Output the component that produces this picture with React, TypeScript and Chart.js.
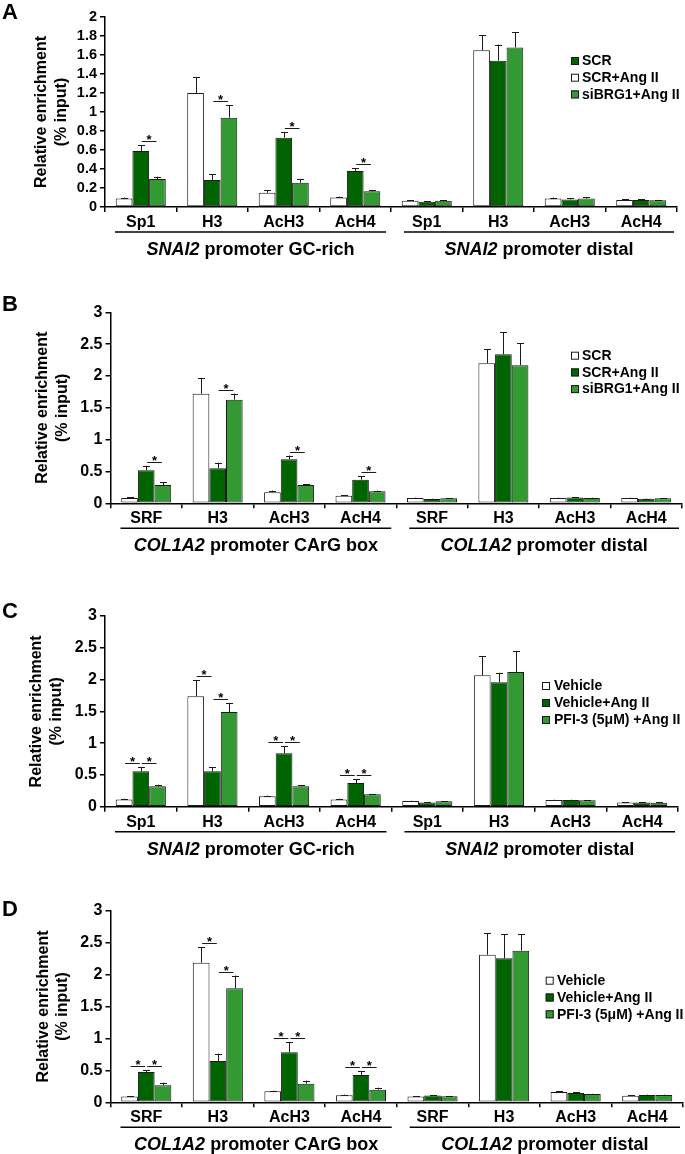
import React, { useEffect, useRef } from "react";
import { Chart, registerables } from "chart.js";

Chart.register(...registerables);

const FONT = "'Liberation Sans', Arial, Helvetica, sans-serif";
const WHITE = "#ffffff";
const DARK = "#006400";
const LIGHT = "#339933";
const EDGE = "#1a1a1a";

// ---------- shared categories / ticks ----------
const CATS_SNAI2 = ["Sp1", "H3", "AcH3", "AcH4", "Sp1", "H3", "AcH3", "AcH4"];
const CATS_COL1A2 = ["SRF", "H3", "AcH3", "AcH4", "SRF", "H3", "AcH3", "AcH4"];
const Y_TICKS_A = [0, 0.2, 0.4, 0.6, 0.8, 1, 1.2, 1.4, 1.6, 1.8, 2];
const Y_TICKS_3 = [0, 0.5, 1, 1.5, 2, 2.5, 3];
const Y_TITLE = ["Relative enrichment", "(% input)"];

// ---------- Panel A ----------
const A_WHITE = [0.09, 1.2, 0.15, 0.1, 0.065, 1.65, 0.09, 0.075];
const A_WHITE_ERR = [0.01, 0.165, 0.025, 0.01, 0.005, 0.16, 0.01, 0.005];
const A_DARK = [0.59, 0.285, 0.73, 0.38, 0.055, 1.54, 0.08, 0.075];
const A_DARK_ERR = [0.06, 0.06, 0.055, 0.03, 0.005, 0.17, 0.015, 0.005];
const A_LIGHT = [0.295, 0.94, 0.256, 0.165, 0.065, 1.68, 0.09, 0.07];
const A_LIGHT_ERR = [0.025, 0.13, 0.04, 0.015, 0.005, 0.16, 0.015, 0.005];
const A_LEGEND = ["SCR", "SCR+Ang II", "siBRG1+Ang II"];
const A_GROUPS = [["SNAI2", " promoter GC-rich"], ["SNAI2", " promoter distal"]];
const A_SIG = [[0, 1, 2], [1, 1, 2], [2, 1, 2], [3, 1, 2]];

// ---------- Panel B ----------
const B_WHITE = [0.085, 1.72, 0.175, 0.12, 0.083, 2.2, 0.085, 0.085];
const B_WHITE_ERR = [0.01, 0.25, 0.025, 0.01, 0.005, 0.22, 0.005, 0.005];
const B_DARK = [0.52, 0.55, 0.69, 0.37, 0.068, 2.34, 0.09, 0.07];
const B_DARK_ERR = [0.07, 0.09, 0.06, 0.06, 0.005, 0.35, 0.01, 0.005];
const B_LIGHT = [0.287, 1.627, 0.287, 0.19, 0.08, 2.17, 0.085, 0.08];
const B_LIGHT_ERR = [0.04, 0.095, 0.015, 0.01, 0.005, 0.34, 0.005, 0.005];
const B_LEGEND = ["SCR", "SCR+Ang II", "siBRG1+Ang II"];
const B_GROUPS = [["COL1A2", " promoter CArG box"], ["COL1A2", " promoter distal"]];
const B_SIG = [[0, 1, 2], [1, 1, 2], [2, 1, 2], [3, 1, 2]];

// ---------- Panel C ----------
const C_WHITE = [0.115, 1.736, 0.163, 0.115, 0.09, 2.066, 0.105, 0.068];
const C_WHITE_ERR = [0.01, 0.25, 0.01, 0.01, 0.005, 0.3, 0.005, 0.005];
const C_DARK = [0.556, 0.556, 0.84, 0.372, 0.068, 1.956, 0.105, 0.068];
const C_DARK_ERR = [0.068, 0.065, 0.115, 0.058, 0.005, 0.15, 0.005, 0.005];
const C_LIGHT = [0.32, 1.49, 0.32, 0.194, 0.084, 2.119, 0.1, 0.063];
const C_LIGHT_ERR = [0.026, 0.136, 0.02, 0.008, 0.005, 0.325, 0.005, 0.005];
const C_LEGEND = ["Vehicle", "Vehicle+Ang II", "PFI-3 (5μM) +Ang II"];
const C_GROUPS = [["SNAI2", " promoter GC-rich"], ["SNAI2", " promoter distal"]];
const C_SIG = [[0, 0, 1], [0, 1, 2], [1, 0, 1], [1, 1, 2], [2, 0, 1], [2, 1, 2], [3, 0, 1], [3, 1, 2]];

// ---------- Panel D ----------
const D_WHITE = [0.089, 2.186, 0.172, 0.11, 0.089, 2.31, 0.16, 0.104];
const D_WHITE_ERR = [0.008, 0.24, 0.01, 0.01, 0.008, 0.335, 0.01, 0.008];
const D_DARK = [0.475, 0.647, 0.783, 0.428, 0.105, 2.254, 0.146, 0.115];
const D_DARK_ERR = [0.031, 0.115, 0.156, 0.057, 0.008, 0.38, 0.008, 0.005];
const D_LIGHT = [0.266, 1.784, 0.292, 0.198, 0.095, 2.374, 0.13, 0.115];
const D_LIGHT_ERR = [0.042, 0.2, 0.048, 0.032, 0.005, 0.26, 0.005, 0.005];
const D_LEGEND = ["Vehicle", "Vehicle+Ang II", "PFI-3 (5μM) +Ang II"];
const D_GROUPS = [["COL1A2", " promoter CArG box"], ["COL1A2", " promoter distal"]];
const D_SIG = [[0, 0, 1], [0, 1, 2], [1, 0, 1], [1, 1, 2], [2, 0, 1], [2, 1, 2], [3, 0, 1], [3, 1, 2]];

const W = 685;

type Series = { label: string; data: number[]; err: number[]; color: string };
type PanelCfg = {
  top: number;
  height: number;
  letter: string;
  letterY: number;
  cats: string[];
  series: Series[];
  legendLabels: string[];
  legendColors: string[];
  legendBoxX: number;
  legendTextX: number;
  legendY: number;
  legendRow: number;
  yTicks: number[];
  yFont: number;
  area: { left: number; right: number; top: number; bottom: number };
  titleX: number;
  groups: string[][];
  sig: number[][];
};

function mkSeries(labels: string[], w: number[], we: number[], d: number[], de: number[], l: number[], le: number[]): Series[] {
  return [
    { label: labels[0], data: w, err: we, color: WHITE },
    { label: labels[1], data: d, err: de, color: DARK },
    { label: labels[2], data: l, err: le, color: LIGHT },
  ];
}

const PANELS: PanelCfg[] = [
  {
    top: 0, height: 265, letter: "A", letterY: 13,
    cats: CATS_SNAI2,
    series: mkSeries(A_LEGEND, A_WHITE, A_WHITE_ERR, A_DARK, A_DARK_ERR, A_LIGHT, A_LIGHT_ERR),
    legendLabels: A_LEGEND, legendColors: [DARK, WHITE, LIGHT],
    legendBoxX: 571, legendTextX: 582, legendY: 61, legendRow: 16.7,
    yTicks: Y_TICKS_A, yFont: 14.5,
    area: { left: 105, right: 677, top: 17, bottom: 207 },
    titleX: 42, groups: A_GROUPS, sig: A_SIG,
  },
  {
    top: 265, height: 295, letter: "B", letterY: 40,
    cats: CATS_COL1A2,
    series: mkSeries(B_LEGEND, B_WHITE, B_WHITE_ERR, B_DARK, B_DARK_ERR, B_LIGHT, B_LIGHT_ERR),
    legendLabels: B_LEGEND, legendColors: [WHITE, DARK, LIGHT],
    legendBoxX: 571, legendTextX: 582, legendY: 90.7, legendRow: 16.7,
    yTicks: Y_TICKS_3, yFont: 16,
    area: { left: 110.5, right: 682, top: 47.3, bottom: 238.3 },
    titleX: 43, groups: B_GROUPS, sig: B_SIG,
  },
  {
    top: 560, height: 298, letter: "C", letterY: 52,
    cats: CATS_SNAI2,
    series: mkSeries(C_LEGEND, C_WHITE, C_WHITE_ERR, C_DARK, C_DARK_ERR, C_LIGHT, C_LIGHT_ERR),
    legendLabels: C_LEGEND, legendColors: [WHITE, DARK, LIGHT],
    legendBoxX: 542, legendTextX: 554, legendY: 126, legendRow: 17,
    yTicks: Y_TICKS_3, yFont: 16,
    area: { left: 105, right: 678, top: 56, bottom: 246.7 },
    titleX: 37, groups: C_GROUPS, sig: C_SIG,
  },
  {
    top: 858, height: 296, letter: "D", letterY: 52,
    cats: CATS_COL1A2,
    series: mkSeries(D_LEGEND, D_WHITE, D_WHITE_ERR, D_DARK, D_DARK_ERR, D_LIGHT, D_LIGHT_ERR),
    legendLabels: D_LEGEND, legendColors: [WHITE, DARK, LIGHT],
    legendBoxX: 545.7, legendTextX: 557, legendY: 122.7, legendRow: 16.8,
    yTicks: Y_TICKS_3, yFont: 16,
    area: { left: 110.5, right: 683, top: 52.7, bottom: 244.3 },
    titleX: 43.3, groups: D_GROUPS, sig: D_SIG,
  },
];

function decorPlugin(cfg: PanelCfg) {
  return {
    id: "decor" + cfg.letter,
    afterDatasetsDraw(chart: any) {
      const ctx = chart.ctx;
      const y = chart.scales.y;
      ctx.save();
      ctx.strokeStyle = EDGE;
      ctx.lineWidth = 1;
      // error bars (upper only)
      cfg.series.forEach((s, di) => {
        const meta = chart.getDatasetMeta(di);
        meta.data.forEach((bar: any, i: number) => {
          const top = y.getPixelForValue(s.data[i]);
          const et = y.getPixelForValue(s.data[i] + s.err[i]);
          const bx = Math.round(bar.x) + 0.5;
          ctx.beginPath();
          ctx.moveTo(bx, top);
          ctx.lineTo(bx, et);
          ctx.moveTo(bx - 3.5, Math.round(et) + 0.5);
          ctx.lineTo(bx + 3.5, Math.round(et) + 0.5);
          ctx.stroke();
        });
      });
      // significance brackets
      cfg.sig.forEach(([cat, a, b]) => {
        const ba = chart.getDatasetMeta(a).data[cat];
        const bb = chart.getDatasetMeta(b).data[cat];
        const sa = cfg.series[a];
        const sb = cfg.series[b];
        const ta = y.getPixelForValue(sa.data[cat] + sa.err[cat]);
        const tb = y.getPixelForValue(sb.data[cat] + sb.err[cat]);
        const ly = Math.round(Math.min(ta, tb) - 4) + 0.5;
        ctx.beginPath();
        ctx.moveTo(ba.x + 1, ly);
        ctx.lineTo(bb.x - 1, ly);
        ctx.stroke();
        ctx.fillStyle = "#000";
        ctx.font = `bold 13px ${FONT}`;
        ctx.textAlign = "center";
        ctx.textBaseline = "alphabetic";
        ctx.fillText("*", (ba.x + bb.x) / 2, ly + 2.5);
      });
      ctx.restore();
    },
    afterDraw(chart: any) {
      const ctx = chart.ctx;
      const x = chart.scales.x;
      ctx.save();
      // panel letter
      ctx.fillStyle = "#000";
      ctx.font = `bold 22px ${FONT}`;
      ctx.textAlign = "left";
      ctx.textBaseline = "middle";
      ctx.fillText(cfg.letter, 2, cfg.letterY);
      // legend
      ctx.font = `bold 14px ${FONT}`;
      cfg.legendLabels.forEach((lab, i) => {
        const cy = cfg.legendY + i * cfg.legendRow;
        ctx.fillStyle = cfg.legendColors[i];
        ctx.fillRect(cfg.legendBoxX, cy - 4, 8, 8);
        ctx.strokeStyle = EDGE;
        ctx.lineWidth = 1;
        ctx.strokeRect(cfg.legendBoxX + 0.5, cy - 3.5, 7, 7);
        ctx.fillStyle = "#000";
        ctx.textAlign = "left";
        ctx.textBaseline = "middle";
        ctx.fillText(lab, cfg.legendTextX, cy + 0.5);
      });
      // group lines and labels
      const catW = (x.right - x.left) / cfg.cats.length;
      const gy = cfg.area.bottom + 25;
      const spans = [
        [x.left + 10, x.left + catW * 4 - 5],
        [x.left + catW * 4 + 13, x.right - 3],
      ];
      ctx.strokeStyle = "#000";
      ctx.lineWidth = 1.5;
      spans.forEach(([x0, x1], gi) => {
        ctx.beginPath();
        ctx.moveTo(x0, gy);
        ctx.lineTo(x1, gy);
        ctx.stroke();
        const [it, rest] = cfg.groups[gi];
        const fi = `italic bold 18px ${FONT}`;
        const fr = `bold 18px ${FONT}`;
        ctx.font = fi;
        const wi = ctx.measureText(it).width;
        ctx.font = fr;
        const wr = ctx.measureText(rest).width;
        const sx = (x0 + x1) / 2 - (wi + wr) / 2;
        const ty = cfg.area.bottom + 43;
        ctx.fillStyle = "#000";
        ctx.textAlign = "left";
        ctx.textBaseline = "middle";
        ctx.font = fi;
        ctx.fillText(it, sx, ty);
        ctx.font = fr;
        ctx.fillText(rest, sx + wi, ty);
      });
      ctx.restore();
    },
  };
}

function Panel({ cfg }: { cfg: PanelCfg }) {
  const ref = useRef<HTMLCanvasElement | null>(null);
  useEffect(() => {
    if (!ref.current) return;
    const a = cfg.area;
    const chart = new Chart(ref.current, {
      type: "bar",
      data: {
        labels: cfg.cats,
        datasets: cfg.series.map((s) => ({
          label: s.label,
          data: s.data,
          backgroundColor: s.color,
          borderColor: EDGE,
          borderWidth: 1,
          borderSkipped: false,
          categoryPercentage: 0.7,
          barPercentage: 1.0,
        })),
      },
      options: {
        animation: false,
        responsive: false,
        devicePixelRatio: 1,
        events: [],
        layout: { padding: { left: 0, right: W - a.right, top: a.top, bottom: 0 } },
        plugins: { legend: { display: false }, tooltip: { enabled: false } },
        scales: {
          x: {
            type: "category",
            offset: true,
            grid: {
              display: true,
              drawOnChartArea: false,
              drawTicks: true,
              tickLength: 5,
              color: "#000",
              lineWidth: 1.5,
              offset: true,
            },
            border: { display: true, color: "#000", width: 1.5 },
            ticks: {
              color: "#000",
              font: { family: FONT, size: 16, weight: "bold" },
              padding: 1,
              autoSkip: false,
              maxRotation: 0,
            },
            afterFit: (s: any) => {
              s.height = cfg.height - a.bottom;
            },
          },
          y: {
            min: 0,
            max: cfg.yTicks[cfg.yTicks.length - 1],
            afterBuildTicks: (s: any) => {
              s.ticks = cfg.yTicks.map((v) => ({ value: v }));
            },
            ticks: {
              color: "#000",
              font: { family: FONT, size: cfg.yFont, weight: "bold" },
              padding: 3,
              autoSkip: false,
              callback: (v: any) => String(v),
            },
            grid: {
              display: true,
              drawOnChartArea: false,
              drawTicks: true,
              tickLength: 5,
              color: "#000",
              lineWidth: 1.5,
            },
            border: { display: true, color: "#000", width: 1.5 },
            title: {
              display: true,
              text: Y_TITLE,
              color: "#000",
              font: { family: FONT, size: 16, weight: "bold", lineHeight: 1.2 },
              padding: { top: cfg.titleX - 9.6, bottom: 0 },
            },
            afterFit: (s: any) => {
              s.width = a.left;
            },
          },
        },
      },
      plugins: [decorPlugin(cfg)],
    } as any);
    return () => chart.destroy();
  }, [cfg]);
  return (
    <canvas
      ref={ref}
      width={W}
      height={cfg.height}
      style={{ position: "absolute", left: 0, top: cfg.top, width: W, height: cfg.height, display: "block" }}
    />
  );
}

export default function App() {
  return (
    <div style={{ position: "absolute", left: 0, top: 0, width: W, height: 1154, background: "#fff", overflow: "hidden" }}>
      {PANELS.map((p) => (
        <Panel key={p.letter} cfg={p} />
      ))}
    </div>
  );
}
